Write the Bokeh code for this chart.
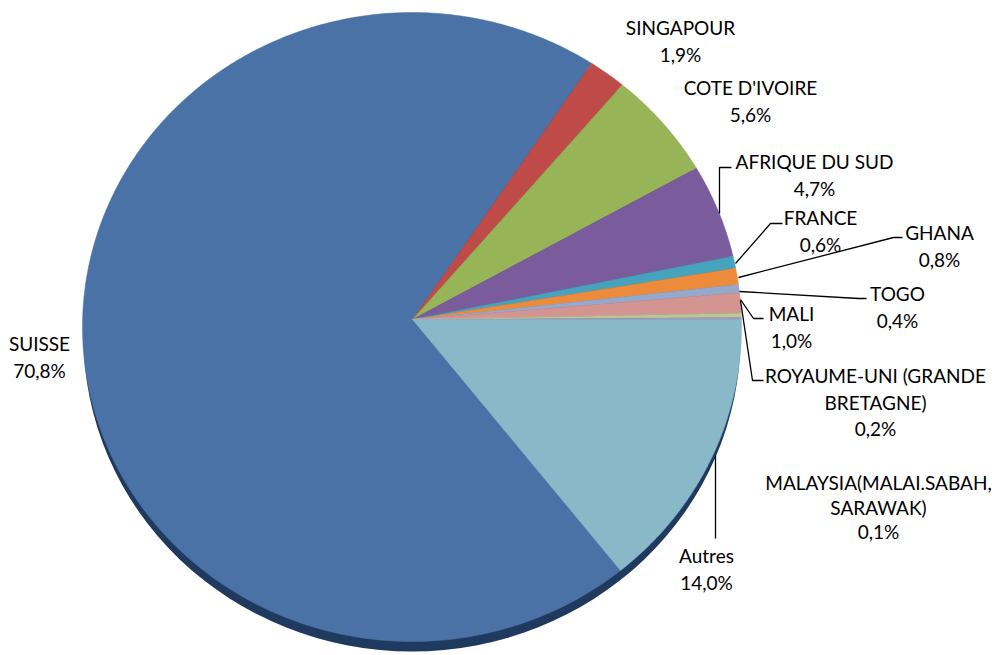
import numpy as np
from bokeh.plotting import figure
from bokeh.models import Range1d
from bokeh.core.properties import value
from bokeh.embed import file_html
from bokeh.resources import INLINE

# ---- data ----
categories = ["SUISSE", "SINGAPOUR", "COTE D'IVOIRE", "AFRIQUE DU SUD", "FRANCE",
              "GHANA", "TOGO", "MALI", "ROYAUME-UNI (GRANDE BRETAGNE)",
              "MALAYSIA(MALAI.SABAH, SARAWAK)", "Autres"]
values = [70.8, 1.9, 5.6, 4.7, 0.6, 0.8, 0.4, 1.0, 0.2, 0.1, 14.0]
colors = ["#4A72A6", "#BE4B48", "#97B556", "#7A5C9C", "#45A3BD", "#EE8B3A",
          "#95A9CC", "#D49492", "#B9C992", "#A898BF", "#89B8C9"]
label_lines = {
    "ROYAUME-UNI (GRANDE BRETAGNE)": ["ROYAUME-UNI (GRANDE", "BRETAGNE)"],
    "MALAYSIA(MALAI.SABAH, SARAWAK)": ["MALAYSIA(MALAI.SABAH,", "SARAWAK)"],
}

# ---- layout (page pixel coordinates) ----
W, H = 992, 655
VX, VY = 412.0, 319.0          # slice vertex
CX, CY = 411.5, 326.5          # ellipse centre of pie face
RX, RY = 329.5, 314.5
START = 140.35                  # degrees clockwise from 12 o'clock
RIM = 10

label_pos = {
    "SUISSE": (39, 343),
    "SINGAPOUR": (680, 27),
    "COTE D'IVOIRE": (750, 87),
    "AFRIQUE DU SUD": (814, 161),
    "FRANCE": (820, 217),
    "GHANA": (939, 232),
    "TOGO": (897, 293),
    "MALI": (791, 313),
    "ROYAUME-UNI (GRANDE BRETAGNE)": (875, 375),
    "MALAYSIA(MALAI.SABAH, SARAWAK)": (878, 482),
    "Autres": (706, 555),
}
line_h = {"MALAYSIA(MALAI.SABAH, SARAWAK)": 24.5}
leaders = {
    "AFRIQUE DU SUD": [(719, 213), (719, 167), (731, 167)],
    "FRANCE": [(735, 263), (770, 223), (782, 223)],
    "GHANA": [(738, 277), (893, 237), (902, 237)],
    "TOGO": [(739, 291), (858, 298), (866, 298)],
    "MALI": [(740, 299), (753, 318), (763, 318)],
    "ROYAUME-UNI (GRANDE BRETAGNE)": [(740, 300), (752, 380), (763, 380)],
    "Autres": [(715, 455), (715, 538)],
}

p = figure(width=W, height=H, x_range=Range1d(0, W), y_range=Range1d(H, 0),
           output_backend="svg", toolbar_location=None, min_border=0)
p.axis.visible = False
p.grid.visible = False
p.outline_line_color = None
p.background_fill_color = "white"
p.border_fill_color = "white"


def edge_points(phis):
    dx = np.sin(phis)
    dy = -np.cos(phis)
    px, py = VX - CX, VY - CY
    a = (dx / RX) ** 2 + (dy / RY) ** 2
    b = 2 * (px * dx / RX ** 2 + py * dy / RY ** 2)
    c = (px / RX) ** 2 + (py / RY) ** 2 - 1
    t = (-b + np.sqrt(b * b - 4 * a * c)) / (2 * a)
    return VX + t * dx, VY + t * dy


# 3D rim below the face
p.ellipse(x=CX, y=CY + RIM, width=2 * RX - 2, height=2 * RY, fill_color="#1F3A5E",
          line_color=None)

total = sum(values)
vals = np.array(values) / total * 360.0
ends = START + np.cumsum(vals)
starts = ends - vals
xs, ys = [], []
for a0, a1 in zip(starts, ends):
    n = max(4, int(abs(a1 - a0) * 2))
    phis = np.radians(np.linspace(a0, a1, n))
    ex, ey = edge_points(phis)
    xs.append([VX] + list(ex))
    ys.append([VY] + list(ey))
p.patches(xs, ys, fill_color=colors, line_color=colors, line_width=0.5)

# leader lines
lx = [[pt[0] for pt in leaders[k]] for k in leaders]
ly = [[pt[1] for pt in leaders[k]] for k in leaders]
p.multi_line(lx, ly, line_color="black", line_width=1.3)

# labels
tx, ty, tt = [], [], []
for cat, v in zip(categories, values):
    lines = label_lines.get(cat, [cat]) + [f"{v:.1f}".replace(".", ",") + "%"]
    x0, y0 = label_pos[cat]
    lh = line_h.get(cat, 26.5)
    for i, s in enumerate(lines):
        tx.append(x0)
        ty.append(y0 + i * lh)
        tt.append(s)
p.text(x=tx, y=ty, text=tt, text_align="center", text_baseline="middle",
       text_font=value("Lato"), text_font_size="19px", text_color="black")

open("out.html", "w").write(file_html(p, INLINE))
